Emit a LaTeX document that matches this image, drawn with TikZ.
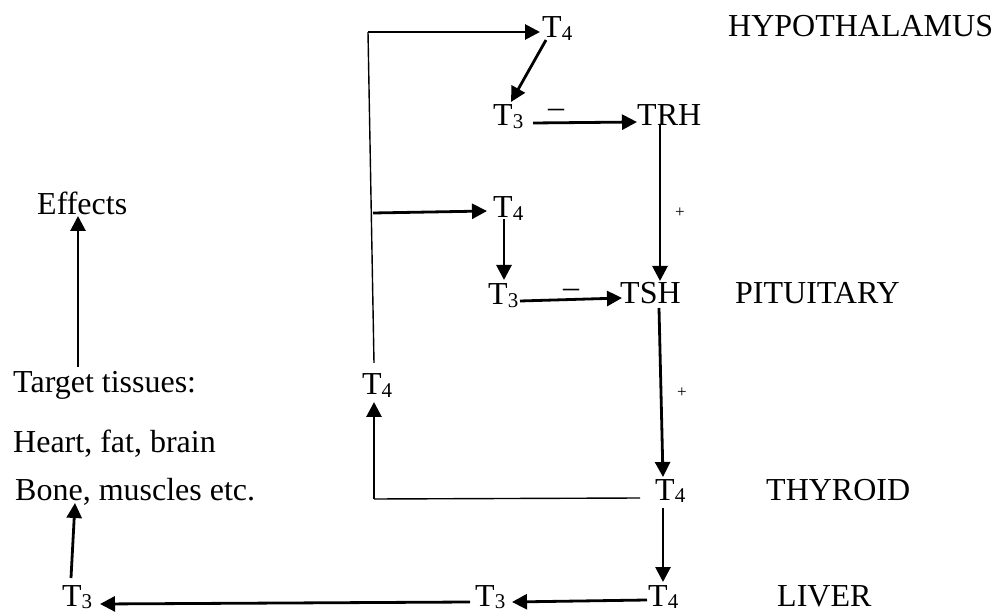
\documentclass[tikz,border=0pt]{standalone}
\usepackage{fontspec}
\setmainfont{Liberation Serif}
\usetikzlibrary{arrows.meta}
\newcommand\mysub[1]{\raisebox{-2.5pt}{\fontsize{21}{24}\selectfont #1}}
\begin{document}
\begin{tikzpicture}[x=1pt,y=-1pt,
  lbl/.style={anchor=base west,inner sep=0pt,font=\fontsize{32}{38}\selectfont},
  sgn/.style={inner sep=0pt,font=\fontsize{32}{38}\selectfont},
  plus/.style={inner sep=0pt,font=\fontsize{17}{20}\selectfont},
  arr/.style={line width=2.8pt,-{Triangle[length=15pt,width=15pt]}},
  thin/.style={line width=1.4pt}]
\useasboundingbox (0,0) rectangle (994,612);
% texts
\node[lbl] (t4h) at (542,38) {T\mysub{4}};
\node[lbl] (hyp) at (728,37) {HYPOTHALAMUS};
\node[lbl] (t3h) at (493,126) {T\mysub{3}};
\node[lbl] (trh) at (637,126) {TRH};
\node[lbl] (eff) at (37,215) {Effects};
\node[lbl] (t4p) at (493,218) {T\mysub{4}};
\node[lbl] (t3p) at (488,305) {T\mysub{3}};
\node[lbl] (tsh) at (620,304) {TSH};
\node[lbl] (pit) at (735,304) {PITUITARY};
\node[lbl] (tt) at (13,393) {Target tissues:};
\node[lbl] (t4l) at (362,395) {T\mysub{4}};
\node[lbl] (heart) at (13,452) {Heart, fat, brain};
\node[lbl] (bone) at (15,500) {Bone, muscles etc.};
\node[lbl] (t4t) at (655,500) {T\mysub{4}};
\node[lbl] (thy) at (766,500) {THYROID};
\node[lbl] (t3b) at (62,606) {T\mysub{3}};
\node[lbl] (t3m) at (475,606) {T\mysub{3}};
\node[lbl] (t4v) at (648,606) {T\mysub{4}};
\node[lbl] (liv) at (777,606) {LIVER};
\node[sgn] (m1) at (556,113) {\textendash};
\node[sgn] (m2) at (571,293) {\textendash};
\node[plus] (p1) at (680,213) {+};
\node[plus] (p2) at (682,393) {+};
% branch points
\coordinate (ltop) at (368,32);
\coordinate (lmid) at (373,213);
\coordinate (lcorner) at (374,499);
% connectors
\draw[thin] ([shift={(12,-32)}]t4l.base west) -- (ltop);
\draw[arr] (ltop) -- ([shift={(-2,-6)}]t4h.base west);
\draw[arr] ([shift={(4,2)}]t4h.base west) -- ([shift={(18,-24)}]t3h.base west);
\draw[arr] ([shift={(40,-3)}]t3h.base west) -- ([shift={(0,-4)}]trh.base west);
\draw[arr] ([shift={(23,-1)}]trh.base west) -- ([shift={(40,-23)}]tsh.base west);
\draw[arr] (lmid) -- ([shift={(-6,-7)}]t4p.base west);
\draw[arr] ([shift={(11,1)}]t4p.base west) -- ([shift={(16,-25)}]t3p.base west);
\draw[arr] ([shift={(32,-4)}]t3p.base west) -- ([shift={(2,-6)}]tsh.base west);
\draw[arr] ([shift={(39,4)}]tsh.base west) -- ([shift={(8,-23)}]t4t.base west);
\draw[arr] ([shift={(8,8)}]t4t.base west) -- ([shift={(15,-24)}]t4v.base west);
\draw[arr] ([shift={(-1,-6)}]t4v.base west) -- ([shift={(37,-4)}]t3m.base west);
\draw[arr] ([shift={(-5,-4)}]t3m.base west) -- ([shift={(38,-2)}]t3b.base west);
\draw[arr] ([shift={(9,-28)}]t3b.base west) -- ([shift={(60,3)}]bone.base west);
\draw[arr] ([shift={(65,-26)}]tt.base west) -- ([shift={(41,1)}]eff.base west);
\draw[thin] ([shift={(-15,-2)}]t4t.base west) -- (lcorner);
\draw[arr] (lcorner) -- ([shift={(12,7)}]t4l.base west);
\end{tikzpicture}
\end{document}
